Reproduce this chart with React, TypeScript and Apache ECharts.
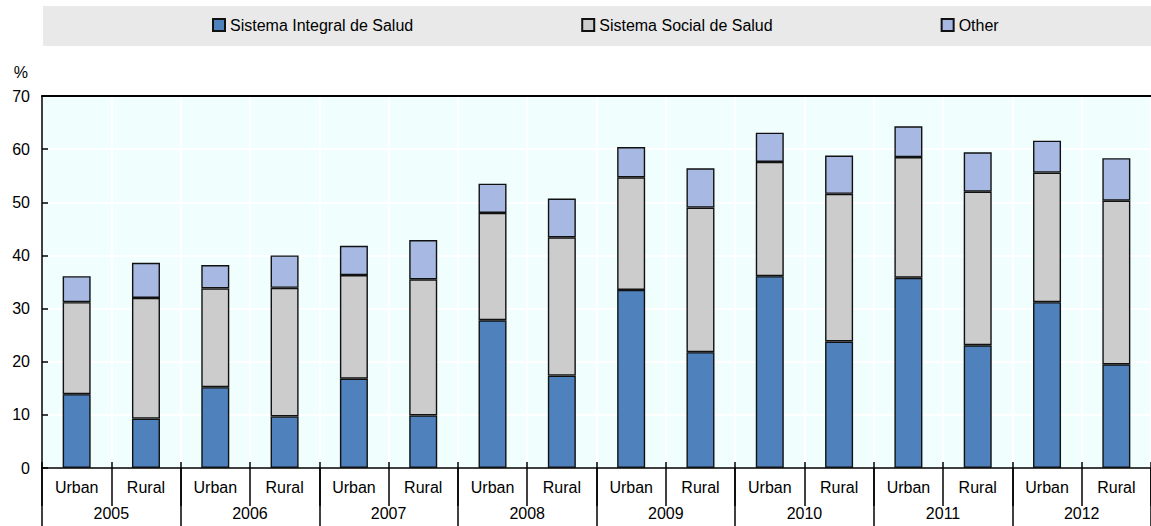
import React, { useEffect, useRef } from "react";
import * as echarts from "echarts";

const areas = ["Urban", "Rural", "Urban", "Rural", "Urban", "Rural", "Urban", "Rural", "Urban", "Rural", "Urban", "Rural", "Urban", "Rural", "Urban", "Rural"];
const years = ["2005", "2006", "2007", "2008", "2009", "2010", "2011", "2012"];
const seriesNames = ["Sistema Integral de Salud", "Sistema Social de Salud", "Other"];
const sisValues = [13.9, 9.3, 15.2, 9.7, 16.8, 9.9, 27.8, 17.4, 33.5, 21.8, 36.1, 23.8, 35.8, 23.1, 31.2, 19.5];
const sssValues = [17.3, 22.7, 18.6, 24.2, 19.5, 25.6, 20.2, 26.0, 21.2, 27.2, 21.5, 27.8, 22.7, 28.9, 24.4, 30.8];
const otherValues = [4.9, 6.6, 4.4, 6.1, 5.5, 7.4, 5.5, 7.3, 5.7, 7.4, 5.5, 7.2, 5.8, 7.4, 6.0, 8.0];
const colors = ["#4f81bd", "#cccccc", "#a7b9e3"];

const FONT = "'Liberation Sans', Arial, sans-serif";

export default function App() {
  const ref = useRef<HTMLDivElement>(null);
  useEffect(() => {
    document.body.style.margin = "0";
    if (!ref.current) return;
    const chart = echarts.init(ref.current, null, { renderer: "svg" });
    const valueLists = [sisValues, sssValues, otherValues];
    chart.setOption({
      animation: false,
      textStyle: { fontFamily: FONT, color: "#000" },
      graphic: [
        {
          type: "rect",
          z: 0,
          shape: { x: 43, y: 6, width: 1108, height: 40 },
          style: { fill: "#e9e9e9" },
        },
      ],
      legend: {
        top: 17,
        left: 212,
        padding: 0,
        itemGap: 168,
        itemWidth: 12,
        itemHeight: 12,
        icon: "rect",
        textStyle: { fontSize: 16, fontFamily: FONT, color: "#000" },
        data: seriesNames,
      },
      grid: {
        left: 42,
        top: 96,
        width: 1114,
        height: 372,
        show: true,
        backgroundColor: "#f0fefe",
        borderWidth: 0,
        containLabel: false,
      },
      xAxis: [
        {
          type: "category",
          data: areas,
          position: "bottom",
          axisLine: { show: true, lineStyle: { color: "#000", width: 1.5 } },
          axisTick: { show: true, interval: 0, length: 38, lineStyle: { color: "#000", width: 1.5 } },
          axisLabel: { interval: 0, margin: 11, fontSize: 16, color: "#000", fontFamily: FONT },
          splitLine: { show: true, interval: 0, lineStyle: { color: "#ffffff", width: 2 } },
        },
        {
          type: "category",
          data: years,
          position: "bottom",
          offset: 0,
          axisLine: { show: false },
          axisTick: { show: true, interval: 0, length: 60, lineStyle: { color: "#000", width: 1.5 } },
          axisLabel: { interval: 0, margin: 37, fontSize: 16, color: "#000", fontFamily: FONT },
          splitLine: { show: false },
        },
        {
          type: "category",
          data: areas,
          position: "bottom",
          offset: 0,
          axisLine: { show: false },
          axisTick: { show: true, inside: true, interval: 0, length: 6, lineStyle: { color: "#000", width: 1.5 } },
          axisLabel: { show: false },
          splitLine: { show: false },
        },
        {
          type: "category",
          data: areas,
          position: "top",
          axisLine: { show: true, lineStyle: { color: "#000", width: 2 } },
          axisTick: { show: false },
          axisLabel: { show: false },
          splitLine: { show: false },
        },
      ],
      yAxis: {
        type: "value",
        min: 0,
        max: 70,
        interval: 10,
        name: "%",
        nameLocation: "end",
        nameGap: 16,
        nameTextStyle: { fontSize: 16, color: "#000", align: "right", padding: [0, 14, 0, 0], fontFamily: FONT },
        axisLine: { show: true, lineStyle: { color: "#000", width: 1.5 } },
        axisTick: { show: true, inside: true, length: 6, lineStyle: { color: "#000", width: 1.5 } },
        axisLabel: { margin: 12, fontSize: 16, color: "#000", fontFamily: FONT },
        splitLine: { show: true, lineStyle: { color: "#ffffff", width: 2 } },
      },
      series: seriesNames.map((name, i) => ({
        name,
        type: "bar",
        stack: "total",
        xAxisIndex: 0,
        yAxisIndex: 0,
        barWidth: 28,
        data: valueLists[i],
        itemStyle: { color: colors[i], borderColor: "#111", borderWidth: 1.4 },
      })),
    });
    return () => chart.dispose();
  }, []);
  return <div ref={ref} style={{ width: 1151, height: 526 }} />;
}
